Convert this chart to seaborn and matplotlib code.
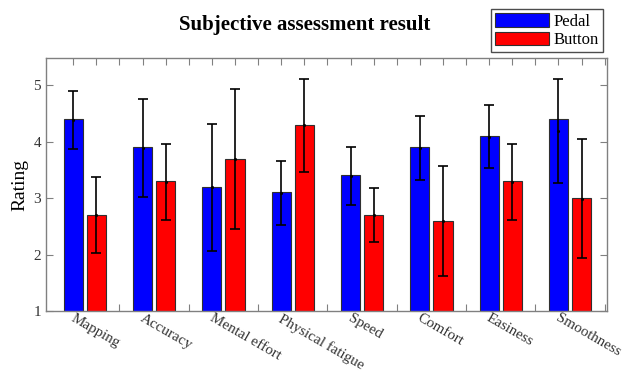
import numpy as np
import pandas as pd
import matplotlib
matplotlib.use('Agg')
import matplotlib.pyplot as plt
import seaborn as sns

# values
items = ['Mapping', 'Accuracy', 'Mental effort', 'Physical fatigue', 'Speed', 'Comfort', 'Easiness', 'Smoothness']
pedal = [4.4, 3.9, 3.2, 3.1, 3.4, 3.9, 4.1, 4.4]
button = [2.7, 3.3, 3.7, 4.3, 2.7, 2.6, 3.3, 3.0]
# error bar ends (low / high)
pedal_lo = [3.87, 3.02, 2.06, 2.52, 2.88, 3.32, 3.53, 3.27]
pedal_hi = [4.90, 4.76, 4.32, 3.66, 3.91, 4.46, 4.65, 5.10]
button_lo = [2.02, 2.62, 2.45, 3.47, 2.22, 1.62, 2.62, 1.94]
button_hi = [3.37, 3.96, 4.93, 5.11, 3.18, 3.57, 3.96, 4.04]
devices = ['Pedal', 'Button']
colors = ['#0000ff', '#ff0000']

df = pd.DataFrame({
    'item': items * 2,
    'rating': pedal + button,
    'device': ['Pedal'] * len(items) + ['Button'] * len(items),
})

sns.set_style('white')
plt.rcParams['font.family'] = ['Liberation Serif', 'DejaVu Serif']
plt.rcParams['text.color'] = 'black'
plt.rcParams['axes.labelcolor'] = 'black'

fig = plt.figure(figsize=(6.22, 3.72), dpi=100)
ax = fig.add_axes([0.074, 0.164, 0.902, 0.68])

sns.barplot(data=df, x='item', y='rating', hue='device', hue_order=devices, order=items,
            palette=colors, width=0.667, gap=0.17, errorbar=None,
            edgecolor='#303030', linewidth=0.8, saturation=1, ax=ax, legend=True)

# error bars
lows = [pedal_lo, button_lo]
highs = [pedal_hi, button_hi]
for cont, lo, hi in zip(ax.containers, lows, highs):
    xs = [p.get_x() + p.get_width() / 2 for p in cont.patches]
    lo = np.array(lo)
    hi = np.array(hi)
    mid = (lo + hi) / 2
    ax.errorbar(xs, mid, yerr=(hi - lo) / 2, fmt='.', color='black', markersize=2.5,
                elinewidth=1.2, capsize=3.5, capthick=1.2, zorder=5)

ax.set_ylim(1, 5.48)
ax.set_xlim(-0.56, 7.535)
ax.set_yticks([1, 2, 3, 4, 5])

# tick marks at bar centres and group separators
n = len(items)
marks = []
for k in range(n):
    marks += [k - 1 / 6, k + 1 / 6, k + 0.5]
ax.set_xticks(marks)
ax.set_xticklabels([])
ax.tick_params(axis='x', direction='in', length=5, top=True, bottom=True, color='#808080')
ax.tick_params(axis='y', direction='in', length=5, left=True, right=True, color='#808080',
               labelsize=11, labelcolor='#333333')
ax.set_axisbelow(True)

# rotated category labels under each group
trans = ax.get_xaxis_transform()
for k, name in enumerate(items):
    ax.text(k - 0.14, -0.003, name, transform=trans, rotation=-30, rotation_mode='anchor',
            ha='left', va='top', fontsize=10.8, color='#333333')

for s in ax.spines.values():
    s.set_color('#808080')
    s.set_linewidth(1.0)

ax.set_xlabel('')
ax.set_ylabel('Rating', fontsize=14, labelpad=4)

fig.text(0.49, 0.932, 'Subjective assessment result', ha='center', va='center',
         fontsize=15, fontweight='bold', color='black')

handles, labels = ax.get_legend_handles_labels()
ax.get_legend().remove()
fig.legend(handles, labels, loc='upper right', bbox_to_anchor=(603 / 622, 1 - 9 / 372),
           fontsize=12, frameon=True, fancybox=False, edgecolor='#202020',
           handlelength=3.2, handleheight=0.9, labelspacing=0.1, handletextpad=0.3,
           borderpad=0.25, borderaxespad=0)

fig.savefig('out.png', dpi=100)
